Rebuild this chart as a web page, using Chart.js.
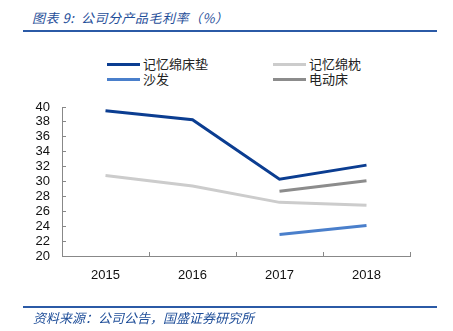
<!DOCTYPE html>
<html>
<head>
<meta charset="utf-8">
<script src="https://cdn.jsdelivr.net/npm/chart.js@4/dist/chart.umd.min.js"></script>
<style>
  html, body { margin: 0; padding: 0; background: #fff; }
  .wrap { position: relative; width: 453px; height: 331px; overflow: hidden; }
  .wrap canvas { position: absolute; left: 0; top: 0; }
  .title { position: absolute; left: 32px; top: 8px; font: italic 13px "Noto Sans CJK SC"; color: #1f4e99; white-space: nowrap; letter-spacing: 0.5px; }
  .rule { position: absolute; left: 23px; width: 414px; height: 2px; background: #2b5aa6; }
  .source { position: absolute; left: 33px; top: 308px; font: italic 13px "Noto Sans CJK SC"; color: #1f4e99; white-space: nowrap; }
  .leg { position: absolute; font: 13px "Noto Sans CJK SC"; color: #222; white-space: nowrap; line-height: 16px; }
  .leg span { display: inline-block; width: 33px; height: 3px; vertical-align: middle; margin-right: 3px; position: relative; top: -1px; }
</style>
</head>
<body>
<div class="wrap">
  <div class="title">图表 9:&nbsp; 公司分产品毛利率（%）</div>
  <div class="rule" style="top:30px"></div>
  <div id="legend"></div>
  <canvas id="chart" width="453" height="331"></canvas>
  <div class="rule" style="top:306px"></div>
  <div class="source">资料来源：公司公告，国盛证券研究所</div>
</div>
<script>
var years = ['2015', '2016', '2017', '2018'];
var seriesNames = ['记忆绵床垫', '记忆绵枕', '沙发', '电动床'];
var mattress = [39.5, 38.3, 30.3, 32.2];
var pillow = [30.8, 29.4, 27.2, 26.8];
var sofa = [null, null, 22.9, 24.1];
var electricBed = [null, null, 28.7, 30.1];
var colors = ['#0b3d91', '#cccccc', '#4a7fcb', '#8c8c8c'];

// legend in two columns, like the original
var legendPos = [[107, 56], [273, 56], [107, 71], [273, 71]];
var legend = document.getElementById('legend');
seriesNames.forEach(function(name, i) {
    var d = document.createElement('div');
    d.className = 'leg';
    d.style.left = legendPos[i][0] + 'px';
    d.style.top = legendPos[i][1] + 'px';
    d.innerHTML = '<span style="background:' + colors[i] + '"></span>' + name;
    legend.appendChild(d);
});

function makeSet(label, data, color) {
    return {
        label: label,
        data: data,
        borderColor: color,
        backgroundColor: color,
        borderWidth: 3,
        pointRadius: 0,
        tension: 0,
        fill: false,
        spanGaps: false
    };
}

var ctx = document.getElementById('chart').getContext('2d');
new Chart(ctx, {
    type: 'line',
    data: {
        labels: years,
        datasets: [
            makeSet(seriesNames[0], mattress, colors[0]),
            makeSet(seriesNames[1], pillow, colors[1]),
            makeSet(seriesNames[2], sofa, colors[2]),
            makeSet(seriesNames[3], electricBed, colors[3])
        ]
    },
    options: {
        responsive: false,
        animation: false,
        layout: { padding: { left: 0, right: 43, top: 107, bottom: 35 } },
        plugins: { legend: { display: false }, tooltip: { enabled: false } },
        scales: {
            x: {
                offset: true,
                grid: { offset: true, drawOnChartArea: false, drawTicks: true, tickLength: -4, color: '#888' },
                border: { color: '#888', width: 1 },
                ticks: { color: '#111', padding: 16, font: { family: 'Liberation Sans', size: 13 } },
                afterFit: function(scale) { scale.height = 40; }
            },
            y: {
                min: 20,
                max: 40,
                grid: { drawOnChartArea: false, drawTicks: true, tickLength: -4, color: '#888' },
                border: { color: '#888', width: 1 },
                ticks: { stepSize: 2, autoSkip: false, color: '#111', padding: 16, font: { family: 'Liberation Sans', size: 13 } },
                afterFit: function(scale) { scale.width = 62; }
            }
        }
    }
});
</script>
</body>
</html>
